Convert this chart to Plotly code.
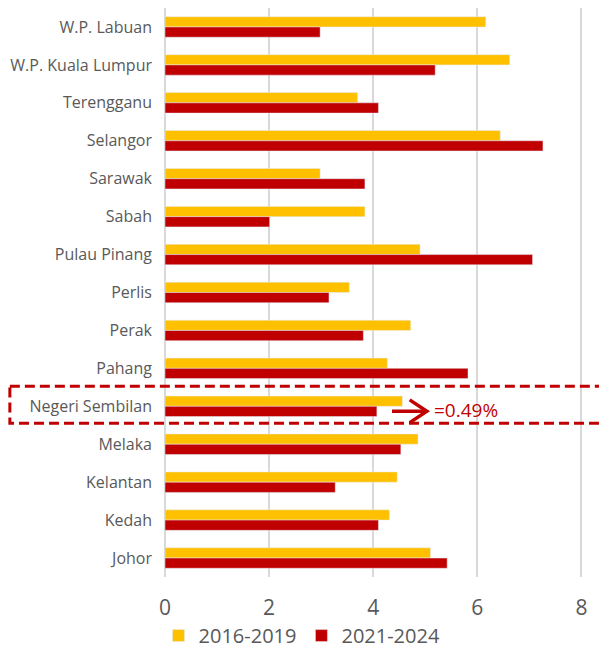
import plotly.graph_objects as go

# state names, top to bottom
states = ["W.P. Labuan", "W.P. Kuala Lumpur", "Terengganu", "Selangor", "Sarawak",
          "Sabah", "Pulau Pinang", "Perlis", "Perak", "Pahang", "Negeri Sembilan",
          "Melaka", "Kelantan", "Kedah", "Johor"]

# average growth by period
growth_2016_2019 = [6.16, 6.62, 3.70, 6.44, 2.98, 3.84, 4.90, 3.54, 4.72, 4.27,
                    4.56, 4.86, 4.46, 4.31, 5.10]
growth_2021_2024 = [2.98, 5.19, 4.10, 7.26, 3.84, 2.01, 7.06, 3.15, 3.81, 5.82,
                    4.07, 4.53, 3.27, 4.10, 5.42]

x_ticks = [0, 2, 4, 6, 8]
highlight = "Negeri Sembilan"
highlight_text = "=0.49%"

YELLOW = "#FFC000"
RED = "#C00000"
GREY = "#595959"
FONT = "Open Sans"

fig = go.Figure()
fig.add_trace(go.Bar(y=states, x=growth_2016_2019, name="2016-2019",
                     orientation="h", marker=dict(color=YELLOW)))
fig.add_trace(go.Bar(y=states, x=growth_2021_2024, name="2021-2024",
                     orientation="h", marker=dict(color=RED)))

hi = states.index(highlight)

# arrow pointing to the annotation
fig.add_shape(type="line", xref="x", yref="y", x0=4.36, x1=5.0, y0=hi + 0.13, y1=hi + 0.13,
              line=dict(color=RED, width=3.5))
fig.add_shape(type="path", xref="x", yref="y",
              path=f"M 4.70 {hi - 0.17} L 5.03 {hi + 0.13} L 4.70 {hi + 0.43}",
              line=dict(color=RED, width=3.5))

# dashed highlight box
fig.add_shape(type="rect", xref="paper", yref="y", x0=-0.351, x1=1.02,
              y0=hi - 0.53, y1=hi + 0.45,
              line=dict(color=RED, width=3, dash="10px,5px"))

fig.add_annotation(x=5.12, y=highlight, text=highlight_text, showarrow=False,
                   xanchor="left", yshift=-4,
                   font=dict(family=FONT, size=19, color=RED))

# page body has an 8px margin, so the figure is a bit smaller than the window
fig.update_layout(
    width=599, height=643,
    margin=dict(l=157, r=0, t=0, b=74, autoexpand=False),
    plot_bgcolor="#FFFFFF",
    paper_bgcolor="#FFFFFF",
    barmode="group",
    bargap=0.46,
    bargroupgap=0,
    font=dict(family=FONT, color=GREY),
    legend=dict(orientation="h", x=0.31, xanchor="center",
                yref="container", y=0.024, yanchor="middle",
                bgcolor="rgba(0,0,0,0)",
                font=dict(size=20, color=GREY), itemwidth=30),
    xaxis=dict(range=[0, 8.49], tickvals=x_ticks, showgrid=True, gridcolor="#D9D9D9",
               gridwidth=1.5, zeroline=True, zerolinecolor="#D9D9D9", zerolinewidth=1.5,
               showline=False, tickfont=dict(size=21, color=GREY), ticks="",
               ticklabelstandoff=16),
    yaxis=dict(autorange="reversed", showgrid=False, ticks="", ticklabelstandoff=12,
               tickfont=dict(size=16, color=GREY)),
)

fig.write_html("out.html")
